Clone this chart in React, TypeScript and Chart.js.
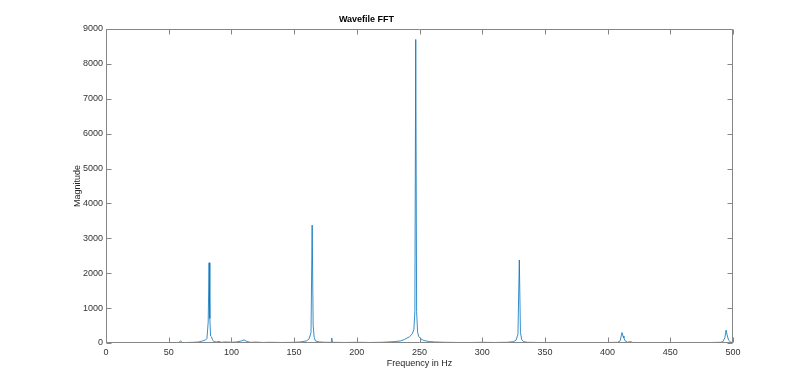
import React, { useEffect, useRef } from "react";
import { Chart, registerables } from "chart.js";

Chart.register(...registerables);

const TITLE = "Wavefile FFT";
const X_LABEL = "Frequency in Hz";
const Y_LABEL = "Magnitude";

const xTicks = [0, 50, 100, 150, 200, 250, 300, 350, 400, 450, 500];
const yTicks = [0, 1000, 2000, 3000, 4000, 5000, 6000, 7000, 8000, 9000];

const freqs = [
  0, 5, 10, 20, 30, 40, 50, 58, 59.5, 61, 65, 70, 74, 76, 78, 79.5, 80.5, 81.5, 82.2, 82.8,
  83.4, 84, 85, 86, 88, 90, 92, 95, 98, 100, 104, 108, 110, 112, 115, 120, 125, 130, 140, 150,
  155, 160, 162, 163.5, 164.4, 165.2, 166, 167, 170, 175, 179.5, 180, 180.5, 190, 200, 210, 220, 225, 230, 235,
  238, 240, 242, 244, 245.5, 246.3, 247, 247.7, 248.5, 249.5, 251, 253, 255, 258, 262, 270, 280, 290, 300, 310,
  320, 325, 327, 328.5, 329.6, 330.5, 331.5, 333, 336, 345, 360, 380, 400, 408, 410, 411.5, 412.3, 413, 414, 416,
  418, 420, 440, 460, 480, 490, 492, 493.5, 494.5, 495.5, 496.5, 498, 500,
];

const mags = [
  0, 2, 3, 4, 5, 6, 8, 10, 60, 10, 15, 20, 30, 50, 70, 90, 130, 600, 2300, 700,
  200, 180, 90, 40, 30, 45, 20, 30, 25, 20, 30, 60, 90, 50, 20, 25, 15, 20, 15, 20,
  30, 60, 120, 300, 3380, 500, 160, 60, 30, 20, 20, 140, 20, 15, 20, 15, 20, 30, 40, 60,
  100, 140, 180, 250, 380, 900, 8700, 900, 300, 180, 120, 80, 60, 40, 30, 20, 15, 15, 20, 15,
  20, 40, 80, 250, 2380, 300, 100, 40, 20, 15, 15, 10, 15, 20, 60, 300, 200, 150, 60, 20,
  40, 15, 10, 10, 12, 20, 40, 150, 370, 200, 80, 30, 10,
];

const FONT = "'Liberation Sans', Arial, Helvetica, sans-serif";

const framePlugin = {
  id: "matlabFrame",
  afterDraw(chart: any) {
    const { ctx, chartArea } = chart;
    const { left, right, top, bottom } = chartArea;
    const xs = chart.scales.x;
    const ys = chart.scales.y;
    const tl = 5;
    ctx.save();
    ctx.strokeStyle = "#858585";
    ctx.lineWidth = 1;
    const L = Math.round(left) + 0.5;
    const R = Math.round(right) - 0.5;
    const T = Math.round(top) + 0.5;
    const B = Math.round(bottom) - 0.5;
    ctx.beginPath();
    ctx.rect(L, T, R - L, B - T);
    for (const v of xTicks) {
      const px = Math.round(xs.getPixelForValue(v)) + 0.5;
      ctx.moveTo(px, B);
      ctx.lineTo(px, B - tl);
      ctx.moveTo(px, T);
      ctx.lineTo(px, T + tl);
    }
    for (const v of yTicks) {
      const py = Math.round(ys.getPixelForValue(v)) + 0.5;
      ctx.moveTo(L, py);
      ctx.lineTo(L + tl, py);
      ctx.moveTo(R, py);
      ctx.lineTo(R - tl, py);
    }
    ctx.stroke();
    ctx.restore();
  },
};

export default function App() {
  const ref = useRef<HTMLCanvasElement | null>(null);

  useEffect(() => {
    if (!ref.current) return;
    const data = freqs.map((f, i) => ({ x: f, y: mags[i] }));
    const chart = new Chart(ref.current, {
      type: "line",
      data: {
        datasets: [
          {
            data,
            borderColor: "#0072BD",
            borderWidth: 0.8,
            pointRadius: 0,
            tension: 0,
            fill: false,
          },
        ],
      },
      options: {
        animation: false,
        responsive: false,
        maintainAspectRatio: false,
        layout: { padding: { top: 0, right: 77, left: 0, bottom: 0 } },
        plugins: {
          legend: { display: false },
          tooltip: { enabled: false },
          title: {
            display: true,
            text: TITLE,
            color: "#000",
            font: { family: FONT, size: 9, weight: "bold", lineHeight: 1.2 },
            padding: { top: 14, bottom: 4.2 },
          },
        },
        scales: {
          x: {
            type: "linear",
            min: 0,
            max: 500,
            afterFit: (s: any) => {
              s.height = 43;
            },
            afterBuildTicks: (s: any) => {
              s.ticks = xTicks.map((v) => ({ value: v }));
            },
            grid: { display: false, drawTicks: false },
            border: { display: false },
            ticks: {
              color: "#333",
              font: { family: FONT, size: 9 },
              padding: 4,
              maxRotation: 0,
              autoSkip: false,
              callback: (v: any) => String(v),
            },
            title: {
              display: true,
              text: X_LABEL,
              color: "#262626",
              font: { family: FONT, size: 9, lineHeight: 1.2 },
              padding: { top: 0, bottom: 16.6 },
            },
          },
          y: {
            type: "linear",
            min: 0,
            max: 9000,
            afterFit: (s: any) => {
              s.width = 106;
            },
            afterBuildTicks: (s: any) => {
              s.ticks = yTicks.map((v) => ({ value: v }));
            },
            grid: { display: false, drawTicks: false },
            border: { display: false },
            ticks: {
              color: "#333",
              font: { family: FONT, size: 9 },
              padding: 3,
              autoSkip: false,
              callback: (v: any) => String(v),
            },
            title: {
              display: true,
              text: Y_LABEL,
              color: "#262626",
              font: { family: FONT, size: 9, lineHeight: 1.2 },
              padding: { top: 72.6, bottom: 0 },
            },
          },
        },
      },
      plugins: [framePlugin],
    });
    return () => chart.destroy();
  }, []);

  return (
    <div style={{ position: "absolute", left: 0, top: 0, width: 810, height: 386, background: "#fff" }}>
      <canvas ref={ref} width={810} height={386} style={{ width: 810, height: 386, display: "block" }} />
    </div>
  );
}
